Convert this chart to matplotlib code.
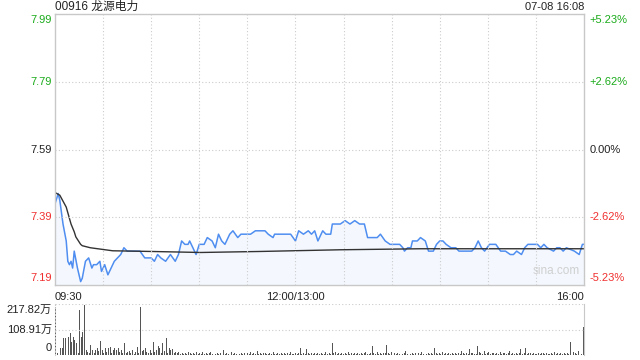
import matplotlib
matplotlib.use('Agg')
import matplotlib.pyplot as plt

plt.rcParams['font.family'] = ['Liberation Sans', 'Noto Sans CJK SC', 'DejaVu Sans']

# intraday price (minute from 09:30, lunch removed)
price_min = [0, 2, 3, 5, 7, 8, 9, 10, 11, 12, 14, 16, 17, 19, 21, 23, 24, 26, 28, 29,
             31, 33, 35, 37, 39, 41, 43, 45, 47, 49, 53, 56, 60, 62, 64, 66, 69, 72, 75, 77,
             79, 81, 83, 84, 86, 88, 90, 93, 95, 98, 100, 102, 104, 106, 109, 111, 114, 116, 119, 122,
             125, 128, 131, 133, 136, 137, 140, 144, 147, 150, 152, 155, 158, 160, 162, 164, 167, 169, 172, 173,
             175, 178, 181, 184, 187, 190, 193, 195, 197, 201, 203, 206, 209, 211, 215, 217, 218, 220, 222, 223,
             226, 228, 231, 233, 236, 238, 240, 242, 244, 247, 250, 252, 256, 260, 262, 264, 266, 268, 271, 275,
             278, 281, 284, 286, 288, 291, 293, 295, 298, 301, 303, 305, 307, 311, 313, 315, 317, 319, 324, 327,
             329, 330]
prices = [7.43, 7.46, 7.44, 7.37, 7.32, 7.26, 7.25, 7.26, 7.24, 7.29, 7.24, 7.20, 7.21, 7.26, 7.27, 7.24, 7.25, 7.25, 7.26, 7.23,
          7.25, 7.22, 7.24, 7.26, 7.27, 7.28, 7.30, 7.29, 7.29, 7.29, 7.29, 7.27, 7.27, 7.26, 7.28, 7.27, 7.26, 7.28, 7.26, 7.28,
          7.32, 7.31, 7.31, 7.32, 7.30, 7.28, 7.31, 7.31, 7.33, 7.32, 7.30, 7.34, 7.32, 7.31, 7.34, 7.35, 7.33, 7.34, 7.34, 7.34,
          7.35, 7.35, 7.35, 7.34, 7.33, 7.34, 7.34, 7.34, 7.34, 7.32, 7.35, 7.34, 7.35, 7.34, 7.35, 7.32, 7.35, 7.34, 7.34, 7.37,
          7.37, 7.37, 7.38, 7.37, 7.38, 7.37, 7.37, 7.33, 7.33, 7.33, 7.34, 7.32, 7.31, 7.31, 7.31, 7.30, 7.29, 7.30, 7.30, 7.32,
          7.32, 7.33, 7.32, 7.29, 7.29, 7.31, 7.32, 7.32, 7.31, 7.30, 7.30, 7.29, 7.29, 7.29, 7.30, 7.32, 7.30, 7.29, 7.31, 7.31,
          7.29, 7.29, 7.28, 7.28, 7.29, 7.28, 7.30, 7.31, 7.31, 7.31, 7.30, 7.31, 7.30, 7.29, 7.30, 7.30, 7.29, 7.30, 7.29, 7.28,
          7.31, 7.31]

# average price line
avg_min = [0, 3, 7, 10, 12, 13, 16, 17, 22, 36, 60, 91, 128, 178, 228, 330]
avg_price = [7.463, 7.455, 7.420, 7.370, 7.347, 7.332, 7.310, 7.306, 7.300, 7.291,
             7.289, 7.286, 7.289, 7.294, 7.297, 7.297]

# volume per minute (万)
volume = [206, 8, 179, 30, 30, 73, 73, 35, 78, 94, 57, 78, 64, 51, 10, 192, 78, 100, 214, 21,
          14, 8, 43, 21, 10, 21, 30, 17, 60, 21, 8, 30, 13, 30, 35, 10, 21, 30, 21, 30,
          14, 21, 8, 50, 10, 13, 17, 8, 21, 6, 13, 35, 8, 206, 17, 21, 30, 13, 8, 21,
          10, 54, 13, 21, 38, 30, 8, 50, 17, 71, 10, 30, 21, 25, 8, 13, 8, 12, 6, 10,
          5, 9, 4, 12, 7, 5, 10, 6, 14, 5, 8, 4, 11, 6, 9, 5, 7, 12, 4, 8,
          6, 10, 5, 7, 4, 21, 6, 9, 5, 8, 11, 4, 7, 6, 10, 5, 8, 4, 9, 6,
          7, 5, 12, 4, 8, 6, 18, 5, 9, 4, 7, 10, 5, 6, 8, 4, 11, 6, 5, 9,
          4, 7, 6, 10, 5, 8, 4, 12, 6, 5, 9, 4, 7, 28, 6, 10, 5, 25, 8, 4,
          7, 6, 10, 4, 8, 5, 9, 6, 4, 11, 5, 7, 6, 52, 8, 12, 5, 9, 6, 10,
          4, 8, 6, 12, 5, 7, 4, 10, 6, 8, 5, 9, 4, 7, 11, 6, 5, 8, 38, 9,
          6, 12, 5, 8, 4, 10, 7, 43, 9, 6, 14, 5, 8, 6, 10, 4, 7, 6, 9, 17,
          5, 8, 4, 10, 6, 7, 5, 9, 4, 12, 6, 8, 5, 10, 4, 7, 6, 28, 9, 5,
          8, 6, 11, 4, 7, 5, 9, 6, 10, 4, 8, 5, 7, 6, 17, 9, 4, 8, 5, 26,
          7, 10, 6, 4, 38, 12, 8, 5, 15, 6, 9, 14, 4, 7, 10, 5, 8, 6, 11, 4,
          7, 9, 5, 8, 17, 6, 10, 4, 7, 5, 9, 26, 6, 8, 28, 5, 7, 10, 4, 8,
          6, 5, 9, 4, 7, 10, 6, 8, 5, 4, 9, 6, 14, 5, 8, 4, 7, 6, 10, 5,
          8, 6, 57, 5, 14, 9, 6, 17, 8, 5, 121]

price_ticks = [7.99, 7.79, 7.59, 7.39, 7.19]
price_labels = ['7.99', '7.79', '7.59', '7.39', '7.19']
pct_labels = ['+5.23%', '+2.62%', '0.00%', '-2.62%', '-5.23%']
tick_colors = ['#1aab1a', '#1aab1a', '#222222', '#f03030', '#f03030']
vol_ticks = [217.82, 108.91, 0]
vol_labels = ['217.82万', '108.91万', '0']
time_labels = ['09:30', '12:00/13:00', '16:00']

fig = plt.figure(figsize=(6.4, 3.6), dpi=100)
ax = fig.add_axes([55 / 640, 1 - 285 / 360, 529 / 640, 271 / 360])
axv = fig.add_axes([55 / 640, 1 - 355 / 360, 529 / 640, 51 / 360])

blue = '#4f8ef0'
ax.fill_between(price_min, prices, 7.19, color=blue, alpha=0.06, lw=0)
ax.plot(price_min, prices, color=blue, lw=1.1)
ax.plot(avg_min, avg_price, color='#333333', lw=1.0)
ax.set_xlim(0, 330)
ax.set_ylim(7.19, 7.99)
ax.set_xticks([])
ax.set_yticks([])
for s in ax.spines.values():
    s.set_color('#c8c8c8')
    s.set_linewidth(1)
for m in range(30, 330, 30):
    ax.axvline(m, color='#cccccc', lw=0.8, ls=(0, (1, 2)))
for p in price_ticks[1:4]:
    ax.axhline(p, color='#cccccc', lw=0.8, ls=(0, (1, 2)))

ytr = ax.get_yaxis_transform()
for i, (p, lab, pl, c) in enumerate(zip(price_ticks, price_labels, pct_labels, tick_colors)):
    va = 'center'
    dy = 0
    if i == 0:
        va, dy = 'top', 0.003
    elif i == len(price_ticks) - 1:
        va, dy = 'bottom', -0.005
    ax.text(-0.006, p - dy, lab, transform=ytr, ha='right', va=va, fontsize=8, color=c)
    ax.text(1.011, p - dy, pl, transform=ytr, ha='left', va=va, fontsize=8, color=c)

ax.text(0.0, -0.025, time_labels[0], transform=ax.transAxes, ha='left', va='top', fontsize=8, color='#222222')
ax.text(150 / 330, -0.025, time_labels[1], transform=ax.transAxes, ha='center', va='top', fontsize=8, color='#222222')
ax.text(1.0, -0.025, time_labels[2], transform=ax.transAxes, ha='right', va='top', fontsize=8, color='#222222')
ax.text(0.0, 1.026, '00916 龙源电力', transform=ax.transAxes, ha='left', va='center', fontsize=8.5, color='#222222')
ax.text(1.0, 1.026, '07-08 16:08', transform=ax.transAxes, ha='right', va='center', fontsize=8, color='#222222')
ax.text(0.947, 0.03, 'sina.com', transform=ax.transAxes, ha='center', va='bottom', fontsize=8.5, color='#cfcfcf')

# volume panel
axv.bar(range(len(volume)), volume, width=0.6, color='#555555', lw=0)
axv.set_xlim(-0.5, 330.5)
axv.set_ylim(0, 217.82)
axv.set_xticks([])
axv.set_yticks([])
for k in ['top', 'bottom']:
    axv.spines[k].set_visible(False)
axv.spines['right'].set_color('#c8c8c8')
axv.spines['left'].set_color('#cccccc')
axv.spines['left'].set_linestyle((0, (1, 2)))
axv.axhline(217.82, color='#cccccc', lw=0.8, ls=(0, (1, 2)))
axv.axhline(108.91, color='#cccccc', lw=0.8, ls=(0, (1, 2)))
vtr = axv.get_yaxis_transform()
axv.text(-0.006, 217.82 - 5, vol_labels[0], transform=vtr, ha='right', va='top', fontsize=8, color='#222222')
axv.text(-0.006, 108.91, vol_labels[1], transform=vtr, ha='right', va='center', fontsize=8, color='#222222')
axv.text(-0.006, 10, vol_labels[2], transform=vtr, ha='right', va='bottom', fontsize=8, color='#222222')

fig.savefig('out.png', dpi=100)
